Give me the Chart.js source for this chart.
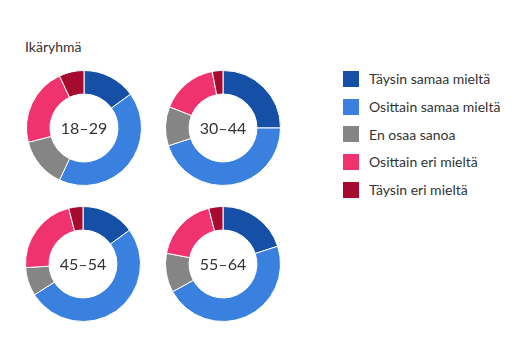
<!DOCTYPE html>
<html>
<head>
<meta charset="utf-8">
<script src="https://cdn.jsdelivr.net/npm/chart.js@4"></script>
<style>
    body { margin: 0; background: #fff; font-family: Lato, sans-serif; color: #333; }
    #wrap { position: relative; width: 525px; height: 360px; }
    #title { position: absolute; left: 25px; top: 38px; font-size: 14px; color: #333; }
    .donut { position: absolute; width: 118px; height: 118px; }
    #legend { position: absolute; left: 343px; top: 65px; }
    .item { display: flex; align-items: center; height: 27.7px; font-size: 14px; color: #333; }
    .swatch { width: 16px; height: 16px; margin-right: 10px; }
</style>
</head>
<body>
<div id="wrap">
    <div id="title">Ikäryhmä</div>
    <canvas class="donut" id="d0" width="118" height="118" style="left:25px;top:69px"></canvas>
    <canvas class="donut" id="d1" width="118" height="118" style="left:164px;top:69px"></canvas>
    <canvas class="donut" id="d2" width="118" height="118" style="left:24px;top:205px"></canvas>
    <canvas class="donut" id="d3" width="118" height="118" style="left:164px;top:205px"></canvas>
    <div id="legend"></div>
</div>
<script>
const groups = ['18–29', '30–44', '45–54', '55–64'];
const answers = ['Täysin samaa mieltä', 'Osittain samaa mieltä', 'En osaa sanoa', 'Osittain eri mieltä', 'Täysin eri mieltä'];
const colors = ['#1650a6', '#3a81df', '#858585', '#f0336e', '#a60a2e'];

const share1829 = [15, 42, 14, 22, 7];
const share3044 = [25, 45, 11, 16, 3];
const share4554 = [15, 51, 8, 22, 4];
const share5564 = [20, 47, 11, 18, 4];
const shares = [share1829, share3044, share4554, share5564];

// center label
const centerText = {
    id: 'centerText',
    afterDraw(chart, args, opts) {
        const { ctx, chartArea } = chart;
        ctx.save();
        ctx.font = '16px Lato, sans-serif';
        ctx.fillStyle = '#333';
        ctx.textAlign = 'center';
        ctx.textBaseline = 'middle';
        ctx.fillText(opts.text, (chartArea.left + chartArea.right) / 2, (chartArea.top + chartArea.bottom) / 2 + 1);
        ctx.restore();
    }
};

groups.forEach((g, i) => {
    new Chart(document.getElementById('d' + i), {
        type: 'doughnut',
        data: {
            labels: answers,
            datasets: [{
                data: shares[i],
                backgroundColor: colors,
                borderColor: '#fff',
                borderWidth: 1
            }]
        },
        options: {
            responsive: false,
            animation: false,
            cutout: '59%',
            layout: { padding: 1 },
            plugins: {
                legend: { display: false },
                tooltip: { enabled: false },
                centerText: { text: g }
            }
        },
        plugins: [centerText]
    });
});

// legend
const legend = document.getElementById('legend');
legend.innerHTML = answers.map((a, i) => `
    <div class="item"><span class="swatch" style="background:${colors[i]}"></span>${a}</div>
`).join('');
</script>
</body>
</html>
